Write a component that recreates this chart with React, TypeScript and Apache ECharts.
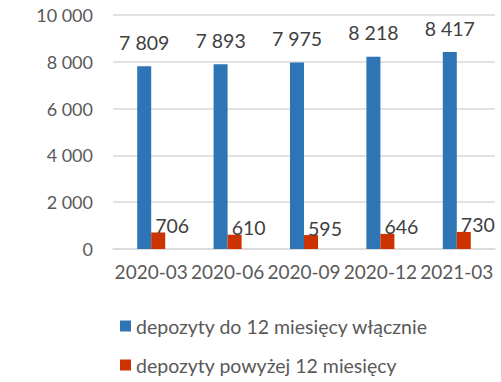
import React, { useEffect, useRef } from "react";
import * as echarts from "echarts";

const categories = ["2020-03", "2020-06", "2020-09", "2020-12", "2021-03"];
const shortTerm = [7809, 7893, 7975, 8218, 8417];
const longTerm = [706, 610, 595, 646, 730];
const seriesNames = ["depozyty do 12 miesięcy włącznie", "depozyty powyżej 12 miesięcy"];

const fmt = (v: number) => String(v).replace(/\B(?=(\d{3})+(?!\d))/g, " ");
const FONT = "Lato, 'Open Sans', sans-serif";

const legendBase = {
  orient: "vertical",
  left: 115,
  itemWidth: 11,
  itemHeight: 11,
  icon: "rect",
  textStyle: { fontSize: 19.5, color: "#595959", fontFamily: FONT },
};

export default function App() {
  const ref = useRef<HTMLDivElement>(null);
  useEffect(() => {
    const chart = echarts.init(ref.current!, null, { renderer: "svg" });
    chart.setOption({
      animation: false,
      textStyle: { fontFamily: FONT },
      grid: { left: 113, right: 6, top: 15, bottom: 133, containLabel: false },
      legend: [
        { ...legendBase, top: 311, data: [seriesNames[0]] },
        { ...legendBase, top: 350, data: [seriesNames[1]] },
      ],
      xAxis: {
        type: "category",
        data: categories,
        axisLine: { lineStyle: { color: "#D9D9D9", width: 1.5 } },
        axisTick: { show: false },
        axisLabel: { fontSize: 19, color: "#595959", margin: 13, interval: 0, fontFamily: FONT },
      },
      yAxis: {
        type: "value",
        min: 0,
        max: 10000,
        interval: 2000,
        axisLine: { show: false },
        axisTick: { show: false },
        splitLine: { lineStyle: { color: "#D9D9D9", width: 1.5 } },
        axisLabel: {
          fontSize: 18,
          color: "#595959",
          margin: 20,
          fontFamily: FONT,
          formatter: (v: number) => fmt(v),
        },
      },
      series: [
        {
          name: seriesNames[0],
          type: "bar",
          data: shortTerm,
          barWidth: 14,
          barGap: "0%",
          itemStyle: { color: "#2E75B6" },
          label: {
            show: true,
            position: "top",
            distance: 14,
            fontSize: 19.5,
            color: "#404040",
            fontFamily: FONT,
            formatter: (p: any) => fmt(p.value),
          },
        },
        {
          name: seriesNames[1],
          type: "bar",
          data: longTerm,
          barWidth: 14,
          barGap: "0%",
          itemStyle: { color: "#CC3300" },
          label: {
            show: true,
            position: "top",
            distance: 5,
            offset: [14, 8],
            fontSize: 19.5,
            color: "#404040",
            fontFamily: FONT,
            formatter: (p: any) => fmt(p.value),
          },
        },
      ],
    });
    return () => chart.dispose();
  }, []);
  return <div ref={ref} style={{ width: 501, height: 382, position: "absolute", left: 0, top: 0 }} />;
}
